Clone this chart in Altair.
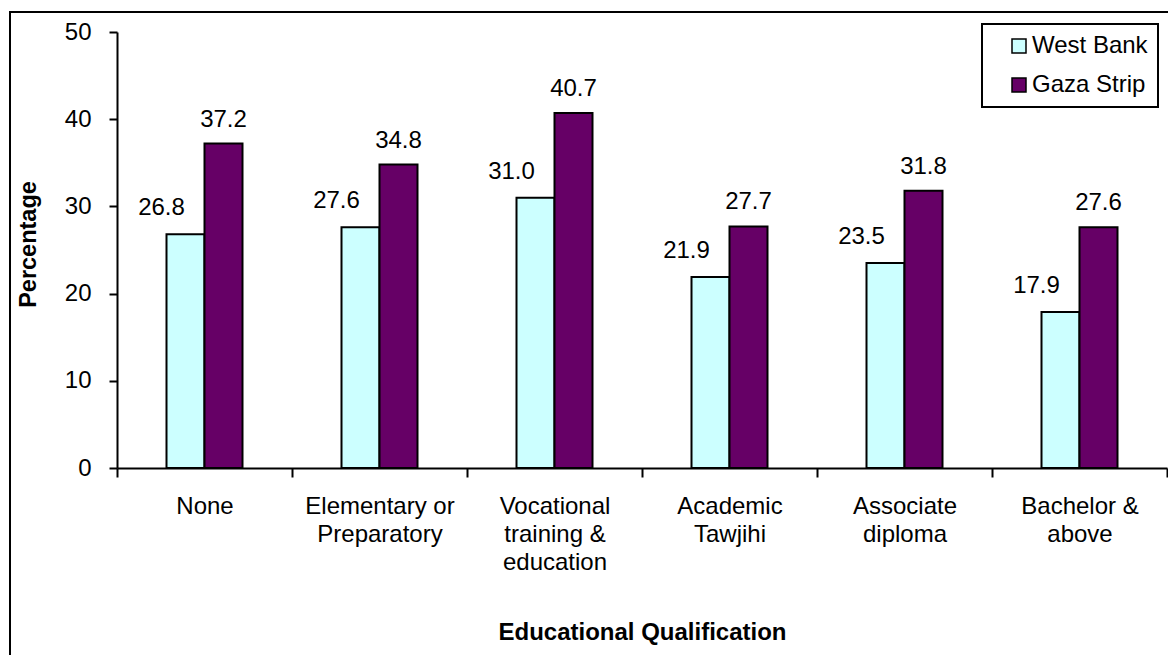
import altair as alt
import pandas as pd

# ---- data ----
categories = [
    "None",
    "Elementary or\nPreparatory",
    "Vocational\ntraining &\neducation",
    "Academic\nTawjihi",
    "Associate\ndiploma",
    "Bachelor &\nabove",
]
west_bank = [26.8, 27.6, 31.0, 21.9, 23.5, 17.9]
gaza_strip = [37.2, 34.8, 40.7, 27.7, 31.8, 27.6]
series = ["West Bank", "Gaza Strip"]
series_colors = ["#CCFFFF", "#660066"]
y_ticks = [0, 10, 20, 30, 40, 50]

rows = []
for i, cat in enumerate(categories):
    rows.append({"qual": cat, "region": series[0], "value": west_bank[i], "label": f"{west_bank[i]:.1f}"})
    rows.append({"qual": cat, "region": series[1], "value": gaza_strip[i], "label": f"{gaza_strip[i]:.1f}"})
df = pd.DataFrame(rows)

FONT = "Liberation Sans"
FS = 24
W, H = 1050, 436
STEP = W / len(categories)
BAR_W = 38

x_enc = alt.X(
    "qual:N",
    sort=categories,
    scale=alt.Scale(domain=categories, paddingInner=0, paddingOuter=0),
    axis=alt.Axis(
        title="Educational Qualification",
        titleFont=FONT, titleFontSize=FS, titleFontWeight="bold", titleColor="black",
        titleY=171, titleBaseline="alphabetic",
        labelExpr="split(datum.label, '\\n')",
        labelFont=FONT, labelFontSize=FS, labelColor="black", labelAngle=0,
        labelPadding=17, labelLineHeight=28.3, labelLimit=0,
        tickBand="extent", tickSize=9, tickWidth=2, tickColor="black",
        domainColor="black", domainWidth=2, grid=False,
    ),
)
xoff_enc = alt.XOffset(
    "region:N", sort=series,
    scale=alt.Scale(domain=series, paddingInner=0, paddingOuter=0,
                    range=[STEP / 2 - BAR_W, STEP / 2 + BAR_W]),
)
y_enc = alt.Y(
    "value:Q",
    scale=alt.Scale(domain=[0, 50], nice=False),
    axis=alt.Axis(
        title="Percentage",
        titleFont=FONT, titleFontSize=23.5, titleFontWeight="bold", titleColor="black",
        titleAngle=270, titleX=-82, titleY=212, titleAlign="center", titleBaseline="alphabetic",
        values=y_ticks, format="d",
        labelFont=FONT, labelFontSize=FS, labelColor="black", labelPadding=18,
        tickSize=8, tickWidth=2, tickColor="black",
        domainColor="black", domainWidth=2, grid=False,
    ),
)
color_enc = alt.Color(
    "region:N", sort=series,
    scale=alt.Scale(domain=series, range=series_colors),
    legend=alt.Legend(
        title=None, orient="none", legendX=865, legendY=-8, direction="vertical",
        labelFont=FONT, labelFontSize=FS, labelColor="black", labelOffset=1,
        symbolType="square", symbolSize=196, symbolStrokeColor="black",
        symbolStrokeWidth=1.5, symbolOpacity=1, symbolOffset=15,
        rowPadding=15, padding=10, strokeColor="black", fillColor="white",
    ),
)

border = alt.Chart(pd.DataFrame({"k": [0]})).mark_rect(
    fill="transparent", stroke="black", strokeWidth=2
).encode(
    x=alt.value(-107), x2=alt.value(1300), y=alt.value(-20), y2=alt.value(800)
)

base = alt.Chart(df)
bars = base.mark_bar(stroke="black", strokeWidth=2).encode(
    x=x_enc, xOffset=xoff_enc, y=y_enc, color=color_enc
)
wb_text = base.transform_filter(alt.datum.region == series[0]).mark_text(
    font=FONT, fontSize=FS, color="black", baseline="alphabetic", dx=-24, dy=-19
).encode(x=x_enc, xOffset=xoff_enc, y=y_enc, text="label:N")
gz_text = base.transform_filter(alt.datum.region == series[1]).mark_text(
    font=FONT, fontSize=FS, color="black", baseline="alphabetic", dx=0, dy=-17
).encode(x=x_enc, xOffset=xoff_enc, y=y_enc, text="label:N")

chart = alt.layer(border, bars, wb_text, gz_text).properties(
    width=W, height=H,
    padding={"left": 109, "top": 24, "right": 1, "bottom": 187},
    autosize=alt.AutoSizeParams(type="none"),
    background="white",
).configure_view(stroke="transparent").configure_legend(strokeWidth=2)

chart.save("out.html", embed_options={"renderer": "svg", "actions": False})
